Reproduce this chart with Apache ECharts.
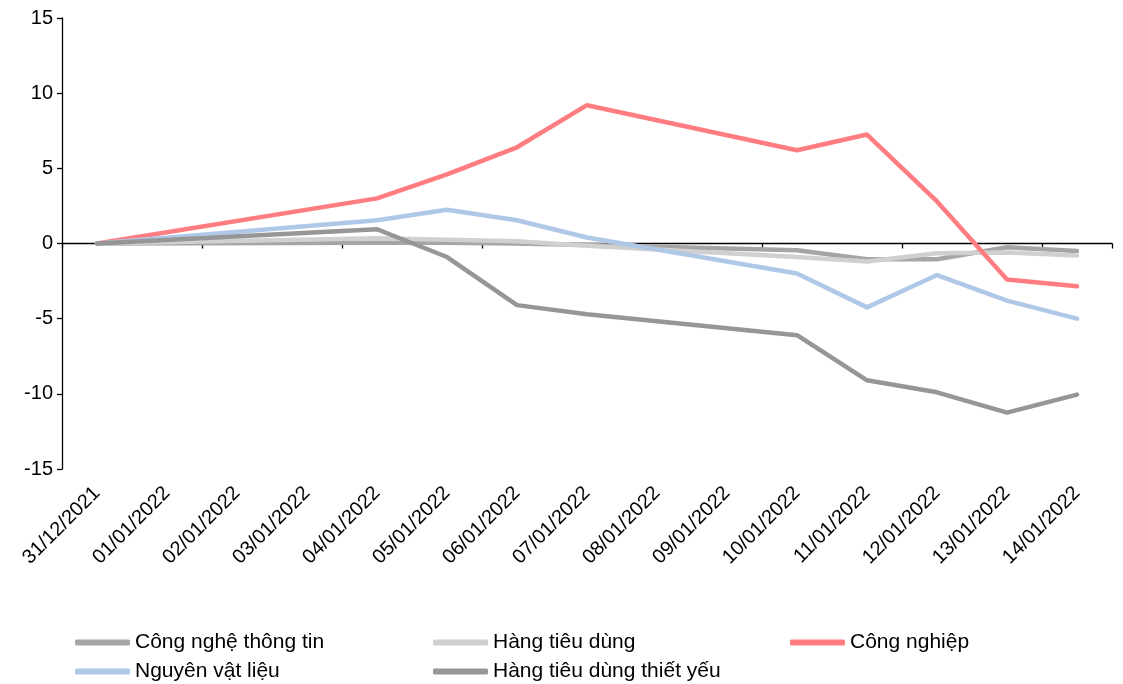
<!DOCTYPE html>
<html>
<head>
<meta charset="utf-8">
<script src="https://cdn.jsdelivr.net/npm/echarts@6/dist/echarts.min.js"></script>
<style>
  html, body { margin: 0; padding: 0; background: #fff; }
  #chart { width: 1123px; height: 684px; }
</style>
</head>
<body>
<div id="chart"></div>
<script>
// Trading days plus the weekend/holiday dates shown on the axis (null = no trading)
const dates = ['31/12/2021', '01/01/2022', '02/01/2022', '03/01/2022', '04/01/2022',
  '05/01/2022', '06/01/2022', '07/01/2022', '08/01/2022', '09/01/2022',
  '10/01/2022', '11/01/2022', '12/01/2022', '13/01/2022', '14/01/2022'];

const congNgheThongTin = [0, null, null, null, 0.05, 0.05, 0.0, -0.1, null, null, -0.45, -1.05, -1.05, -0.25, -0.5];
const hangTieuDung = [0, null, null, null, 0.35, 0.25, 0.15, -0.15, null, null, -0.9, -1.2, -0.65, -0.6, -0.8];
const congNghiep = [0, null, null, null, 3.0, 4.6, 6.4, 9.2, null, null, 6.2, 7.25, 2.8, -2.4, -2.85];
const nguyenVatLieu = [0, null, null, null, 1.55, 2.25, 1.55, 0.4, null, null, -2.0, -4.25, -2.1, -3.8, -5.0];
const hangTieuDungThietYeu = [0, null, null, null, 0.95, -0.9, -4.1, -4.7, null, null, -6.1, -9.1, -9.9, -11.25, -10.05];

const yTicks = { min: -15, max: 15, step: 5 };

const FONT = '"Liberation Sans", Arial, sans-serif';

function lineSeries(name, data, color) {
  return {
    name: name,
    type: 'line',
    data: data,
    xAxisIndex: 0,
    connectNulls: true,
    showSymbol: false,
    symbol: 'none',
    animation: false,
    lineStyle: { color: color, width: 4.5, cap: 'round', join: 'round' },
    itemStyle: { color: color }
  };
}

function legendBlock(left, names) {
  return {
    left: left,
    top: 632,
    padding: 0,
    orient: 'vertical',
    itemWidth: 55,
    itemHeight: 6,
    itemGap: 8,
    icon: 'roundRect',
    selectedMode: false,
    data: names,
    textStyle: { fontFamily: FONT, fontSize: 21, color: '#000' }
  };
}

const chart = echarts.init(document.getElementById('chart'), null, { renderer: 'canvas' });
chart.setOption({
  backgroundColor: '#fff',
  animation: false,
  grid: { left: 62, right: 11, top: 18, bottom: 215, containLabel: false },
  legend: [
    legendBlock(75, ['Công nghệ thông tin', 'Nguyên vật liệu']),
    legendBlock(433, ['Hàng tiêu dùng', 'Hàng tiêu dùng thiết yếu']),
    legendBlock(790, ['Công nghiệp'])
  ],
  xAxis: [
    {
      // axis line and ticks crossing at zero
      type: 'category',
      data: dates,
      boundaryGap: true,
      axisLine: { show: true, onZero: true, lineStyle: { color: '#000', width: 1.3 } },
      axisTick: { show: true, length: 5, inside: false, lineStyle: { color: '#000', width: 1.3 } },
      axisLabel: { show: false },
      splitLine: { show: false }
    },
    {
      // date labels along the bottom edge
      type: 'category',
      data: dates,
      position: 'bottom',
      boundaryGap: true,
      axisLine: { show: false, onZero: false },
      axisTick: { show: false },
      axisLabel: { show: true, rotate: 45, margin: 21, fontFamily: FONT, fontSize: 20, color: '#000' },
      splitLine: { show: false }
    }
  ],
  yAxis: {
    type: 'value',
    min: yTicks.min,
    max: yTicks.max,
    interval: yTicks.step,
    axisLine: { show: true, lineStyle: { color: '#000', width: 1.3 } },
    axisTick: { show: true, length: 5, lineStyle: { color: '#000', width: 1.3 } },
    axisLabel: { fontFamily: FONT, fontSize: 20, color: '#000', margin: 9 },
    splitLine: { show: false }
  },
  series: [
    lineSeries('Công nghệ thông tin', congNgheThongTin, '#a5a5a5'),
    lineSeries('Hàng tiêu dùng', hangTieuDung, '#d0d0d0'),
    lineSeries('Công nghiệp', congNghiep, '#ff7c80'),
    lineSeries('Nguyên vật liệu', nguyenVatLieu, '#b0c8e8'),
    lineSeries('Hàng tiêu dùng thiết yếu', hangTieuDungThietYeu, '#969696')
  ]
});
</script>
</body>
</html>
